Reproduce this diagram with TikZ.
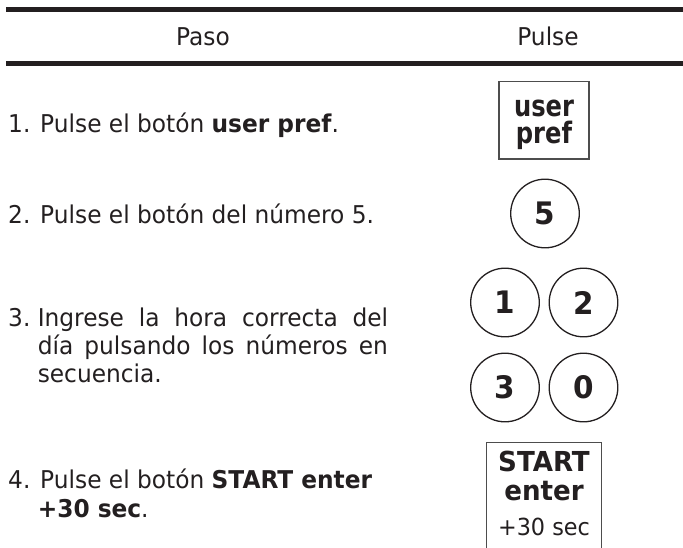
\documentclass[tikz,border=0pt]{standalone}
\usepackage{fontspec}
\setmainfont{DejaVu Sans}[FakeStretch=0.95]
\newfontfamily\btnfont{DejaVu Sans}[FakeStretch=0.82]
\newfontfamily\startfont{DejaVu Sans}[FakeStretch=0.95]
\definecolor{ink}{HTML}{231F20}
\definecolor{boxline}{HTML}{4D4D4D}
\tikzset{
  txt/.style={anchor=base west, inner sep=0pt, text=ink, font=\fontsize{24.5}{29}\selectfont},
  hdr/.style={anchor=base, inner sep=0pt, text=ink, font=\fontsize{24.5}{29}\selectfont},
  rule/.style={draw=ink, line width=5pt},
  keybox/.style={draw=boxline, line width=1.4pt, inner sep=0pt},
  keytxt/.style={anchor=base, inner sep=0pt, text=ink},
  numkey/.style={circle, draw=ink, line width=1.3pt, minimum size=68.6pt, inner sep=0pt, text=ink, font=\fontsize{31}{31}\selectfont\bfseries}
}
\begin{document}
\begin{tikzpicture}[x=1pt, y=-1pt]
\useasboundingbox (0,0) rectangle (683,547);
% rules
\coordinate (r1a) at (6,9.3);
\coordinate (r1b) at (683,9.3);
\coordinate (r2a) at (6,63.5);
\coordinate (r2b) at (683,63.5);
\draw[rule] (r1a) -- (r1b);
\draw[rule] (r2a) -- (r2b);
% header
\node[hdr] (hpaso) at (203,45) {Paso};
\node[hdr] (hpulse) at (548,45) {Pulse};
% steps
\node[txt] (s1) at (8,132) {1. Pulse el botón \textbf{user pref}.};
\node[txt] (s2) at (8,223) {2. Pulse el botón del número 5.};
\node[txt] (s3n) at (8,326) {3.};
\node[txt] (s3a) at (37.6,326) {\makebox[350.4pt][s]{Ingrese la hora correcta del}};
\node[txt] (s3b) at (37.6,354) {\makebox[350pt][s]{día pulsando los números en}};
\node[txt] (s3c) at (37.6,382) {secuencia.};
\node[txt] (s4a) at (8,488) {4. Pulse el botón \textbf{START enter}};
\node[txt] (s4b) at (37.6,517) {\textbf{+30 sec}.};
% user pref key
\node[keybox, minimum width=90pt, minimum height=77.3pt] (kup) at (544,120.4) {};
\node[keytxt, font=\fontsize{29.5}{29}\btnfont\bfseries] (kupa) at (544,116.3) {user};
\node[keytxt, font=\fontsize{29.5}{29}\btnfont\bfseries] (kupb) at (544,143.3) {pref};
% number keys
\node[numkey] (k5) at (545,213.5) {5};
\node[numkey] (k1) at (505,302.5) {1};
\node[numkey] (k2) at (583.5,302.5) {2};
\node[numkey] (k3) at (505,387.5) {3};
\node[numkey] (k0) at (583.5,387.5) {0};
% start key
\coordinate (sbl) at (486.7,548);
\coordinate (stl) at (486.7,442.7);
\coordinate (str) at (601.7,442.7);
\coordinate (sbr) at (601.7,548);
\draw[boxline, line width=1.4pt] (sbl) -- (stl) -- (str) -- (sbr);
\node[keytxt, font=\fontsize{27.5}{27}\startfont\bfseries] (kst) at (544,471.7) {START};
\node[keytxt, font=\fontsize{27.5}{27}\startfont\bfseries] (ken) at (544,500) {enter};
\node[keytxt, font=\fontsize{23.5}{23}\selectfont] (k30) at (544,535.5) {+30 sec};
\end{tikzpicture}
\end{document}
